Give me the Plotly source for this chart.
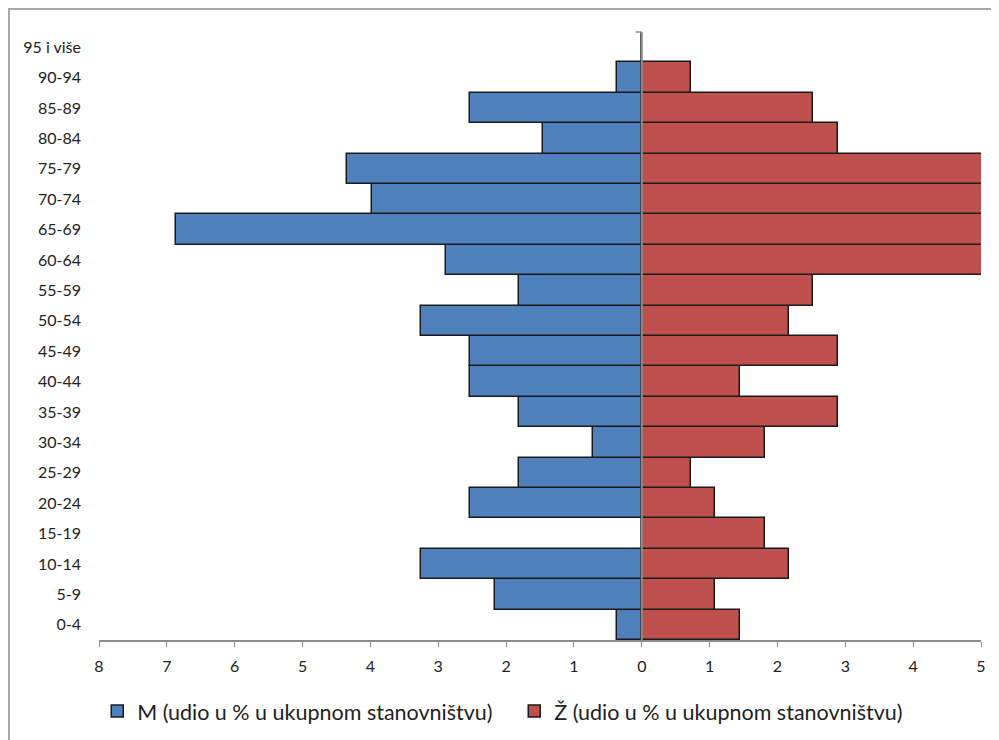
import plotly.graph_objects as go

categories = ["0-4", "5-9", "10-14", "15-19", "20-24", "25-29", "30-34", "35-39",
              "40-44", "45-49", "50-54", "55-59", "60-64", "65-69", "70-74",
              "75-79", "80-84", "85-89", "90-94", "95 i više"]
male = [0.36, 2.17, 3.25, 0.0, 2.53, 1.81, 0.72, 1.81, 2.53, 2.53, 3.25, 1.81,
        2.89, 6.87, 3.98, 4.34, 1.45, 2.53, 0.36, 0.0]
female = [1.45, 1.08, 2.17, 1.81, 1.08, 0.72, 1.81, 2.89, 1.45, 2.89, 2.17, 2.53,
          5.42, 6.87, 7.23, 6.15, 2.89, 2.53, 0.72, 0.0]
tick_vals = [-8, -7, -6, -5, -4, -3, -2, -1, 0, 1, 2, 3, 4, 5]
tick_text = ["8", "7", "6", "5", "4", "3", "2", "1", "0", "1", "2", "3", "4", "5"]
name_m = "M (udio u % u ukupnom stanovništvu)"
name_f = "Ž (udio u % u ukupnom stanovništvu)"

FONT = "Lato, 'Open Sans', sans-serif"

fig = go.Figure()
fig.add_trace(go.Bar(
    y=categories, x=[-v for v in male], orientation="h", name=name_m,
    marker=dict(color="#4F81BD", line=dict(color="#1a1a1a", width=1.5)),
))
fig.add_trace(go.Bar(
    y=categories, x=female, orientation="h", name=name_f,
    marker=dict(color="#C0504D", line=dict(color="#1a1a1a", width=1.5)),
))

fig.update_layout(
    width=999, height=740,
    margin=dict(l=91, r=26, t=24, b=108),
    barmode="overlay", bargap=0,
    plot_bgcolor="white", paper_bgcolor="white",
    font=dict(family=FONT, size=16, color="#222"),
    showlegend=True,
    legend=dict(orientation="h", x=-0.002, xanchor="left", y=-0.117, yanchor="middle",
                font=dict(size=21.5, color="#222"), traceorder="normal",
                entrywidth=372, itemwidth=30),
    xaxis=dict(range=[-8, 5], tickvals=tick_vals, ticktext=tick_text,
               showgrid=False, zeroline=False, showline=True, linecolor="#8c8c8c",
               linewidth=1.5, ticks="outside", ticklen=5, tickcolor="#8c8c8c",
               tickfont=dict(size=16), ticklabelstandoff=6),
    yaxis=dict(showgrid=False, zeroline=False, showline=False, ticks="",
               tickfont=dict(size=16), ticklabelstandoff=17),
    shapes=[
        dict(type="line", xref="x", yref="paper", x0=0, x1=0, y0=0, y1=1,
             line=dict(color="#8c8c8c", width=2), layer="above"),
        dict(type="line", xref="x", yref="paper", x0=-0.09, x1=0, y0=1, y1=1,
             line=dict(color="#8c8c8c", width=1.5), layer="above"),
        dict(type="rect", xref="paper", yref="paper", x0=-0.102, x1=1.1,
             y0=-0.3, y1=1.0378, line=dict(color="#a6a6a6", width=2), layer="below"),
    ],
)

fig.write_html("out.html")
